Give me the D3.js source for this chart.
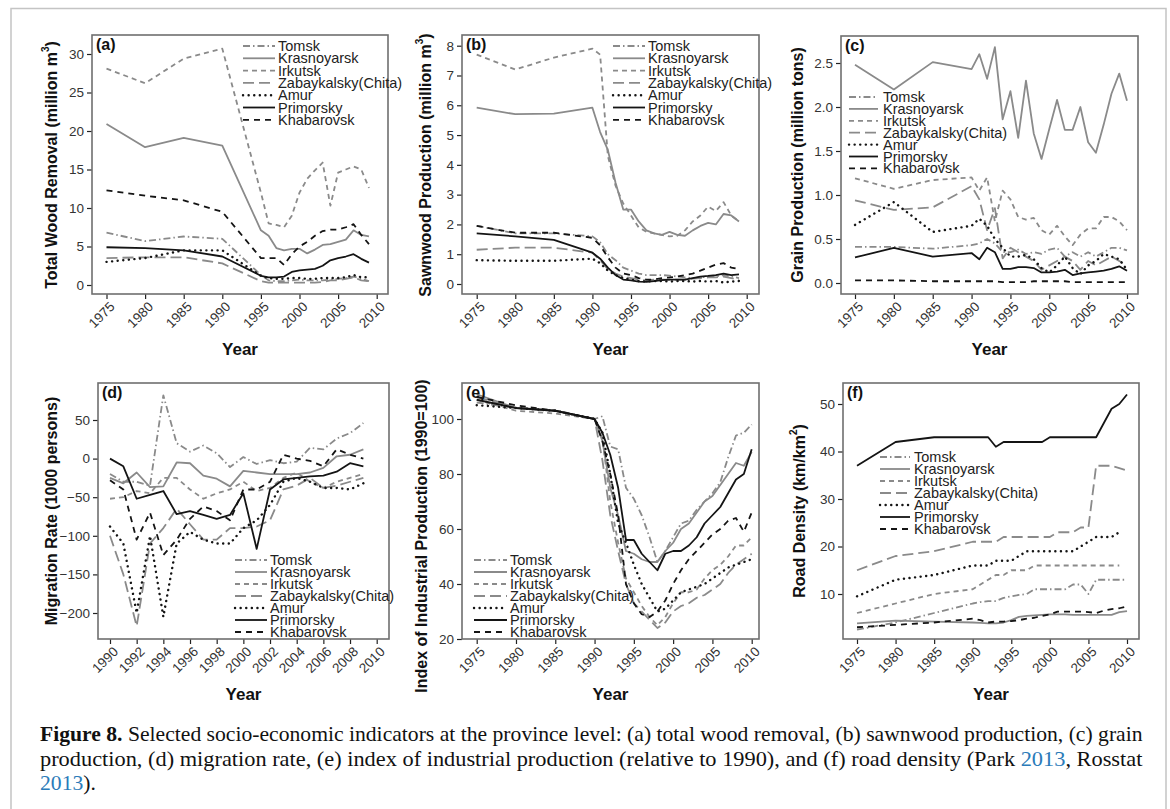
<!DOCTYPE html>
<html><head><meta charset="utf-8">
<script src="https://cdn.jsdelivr.net/npm/d3@7"></script>
<style>
body{margin:0;background:#fff;}
svg{display:block;font-family:"Liberation Sans",Arial,Helvetica,sans-serif;}
</style>
</head><body>
<svg id="c" width="1170" height="809"></svg>
<script>
// ---------------- DATA ----------------
const seriesNames = ["Tomsk","Krasnoyarsk","Irkutsk","Zabaykalsky(Chita)","Amur","Primorsky","Khabarovsk"];

// (a) Total wood removal (million m3)
const woodYears = [1975,1980,1985,1990,1995,1996,1997,1998,1999,2000,2001,2002,2003,2004,2005,2006,2007,2008,2009];
const woodTomsk       = [6.8,5.7,6.3,6.0,1.3,0.6,0.5,0.5,0.6,0.7,0.6,0.6,0.6,0.7,0.8,0.9,1.1,0.8,0.5];
const woodKrasnoyarsk = [20.9,17.9,19.1,18.1,7.1,6.4,4.8,4.5,4.7,4.7,4.1,4.6,5.2,5.3,5.6,5.9,7.1,6.5,6.3];
const woodIrkutsk     = [28.1,26.2,29.4,30.7,12.0,8.0,7.8,7.5,9.0,12.0,13.8,14.9,15.9,10.3,14.6,15.0,15.4,15.0,12.6];
const woodZabaykalsky = [3.5,3.6,3.6,2.8,0.5,0.3,0.3,0.3,0.3,0.3,0.3,0.3,0.4,0.6,0.6,0.8,1.0,0.6,0.5];
const woodAmur        = [3.0,3.5,4.5,4.5,1.2,0.9,0.8,0.8,0.9,0.9,0.8,0.8,0.9,0.9,0.9,1.0,1.3,1.0,1.0];
const woodPrimorsky   = [4.9,4.8,4.5,3.7,1.2,1.0,1.0,1.1,1.7,1.9,2.0,2.1,2.5,3.2,3.5,3.7,4.0,3.4,2.9];
const woodKhabarovsk  = [12.3,11.6,11.0,9.5,3.5,3.5,3.5,2.6,4.0,5.0,5.6,6.4,7.0,7.2,7.2,7.5,7.9,6.5,5.3];

// (b) Sawnwood production (million m3)
const sawYears = [1975,1980,1985,1990,1991,1992,1993,1994,1995,1996,1997,1998,1999,2000,2001,2002,2003,2004,2005,2006,2007,2008,2009];
const sawTomsk       = [1.95,1.7,1.7,1.6,1.4,1.0,0.8,0.55,0.45,0.35,0.3,0.3,0.3,0.28,0.25,0.22,0.2,0.22,0.25,0.25,0.3,0.25,0.2];
const sawKrasnoyarsk = [5.92,5.7,5.72,5.92,5.1,4.5,3.4,2.5,2.5,2.1,1.8,1.7,1.65,1.75,1.65,1.62,1.8,1.95,2.05,2.0,2.35,2.3,2.1];
const sawIrkutsk     = [7.7,7.2,7.6,7.9,7.7,4.3,3.3,2.7,2.3,1.9,1.75,1.7,1.65,1.6,1.62,1.8,2.1,2.3,2.6,2.45,2.75,2.3,2.1];
const sawZabaykalsky = [1.15,1.22,1.22,1.05,0.8,0.5,0.35,0.25,0.2,0.15,0.12,0.15,0.15,0.15,0.15,0.15,0.18,0.2,0.22,0.22,0.25,0.2,0.15];
const sawAmur        = [0.8,0.78,0.78,0.85,0.7,0.45,0.3,0.2,0.15,0.1,0.08,0.1,0.1,0.08,0.1,0.1,0.08,0.1,0.08,0.1,0.05,0.08,0.1];
const sawPrimorsky   = [1.7,1.6,1.48,1.05,0.85,0.55,0.3,0.15,0.12,0.08,0.07,0.1,0.13,0.15,0.15,0.15,0.2,0.25,0.27,0.3,0.35,0.3,0.32];
const sawKhabarovsk  = [1.95,1.72,1.72,1.55,1.3,0.9,0.55,0.35,0.3,0.2,0.15,0.15,0.2,0.22,0.25,0.3,0.35,0.45,0.55,0.65,0.7,0.55,0.5];

// (c) Grain production (million tons)
const grainYears = [1975,1980,1985,1990,1991,1992,1993,1994,1995,1996,1997,1998,1999,2000,2001,2002,2003,2004,2005,2006,2007,2008,2009,2010];
const grainTomsk       = [0.41,0.41,0.39,0.43,0.45,0.5,0.45,0.35,0.35,0.38,0.33,0.35,0.33,0.38,0.4,0.3,0.35,0.3,0.35,0.3,0.35,0.4,0.4,0.37];
const grainKrasnoyarsk = [2.48,2.2,2.51,2.43,2.6,2.32,2.68,1.86,2.18,1.65,2.3,1.7,1.41,1.75,2.08,1.74,1.74,2.0,1.6,1.48,1.8,2.15,2.38,2.07];
const grainIrkutsk     = [1.19,1.07,1.17,1.2,1.05,1.2,0.7,1.05,0.95,0.75,0.72,0.74,0.6,0.55,0.65,0.53,0.43,0.55,0.62,0.62,0.75,0.75,0.7,0.6];
const grainZabaykalsky = [0.94,0.83,0.86,1.1,0.95,0.6,0.85,0.28,0.4,0.35,0.3,0.25,0.15,0.2,0.25,0.3,0.25,0.15,0.25,0.2,0.25,0.3,0.25,0.2];
const grainAmur        = [0.66,0.92,0.58,0.65,0.73,0.65,0.5,0.4,0.3,0.3,0.32,0.27,0.17,0.12,0.2,0.3,0.17,0.1,0.2,0.25,0.33,0.3,0.27,0.15];
const grainPrimorsky   = [0.29,0.4,0.3,0.34,0.27,0.4,0.35,0.16,0.16,0.18,0.18,0.17,0.12,0.12,0.13,0.15,0.09,0.11,0.12,0.13,0.14,0.16,0.19,0.14];
const grainKhabarovsk  = [0.03,0.03,0.02,0.02,0.02,0.02,0.02,0.01,0.01,0.01,0.01,0.02,0.02,0.02,0.02,0.02,0.01,0.01,0.01,0.01,0.01,0.01,0.01,0.01];

// (d) Migration rate (1000 persons)
const migYears = [1990,1991,1992,1993,1994,1995,1996,1997,1998,1999,2000,2001,2002,2003,2004,2005,2006,2007,2008,2009];
const migTomsk       = [-20,-30,-30,-35,82,20,9,17,7,-11,2,-7,-2,-6,-4,14,12,26,33,46];
const migKrasnoyarsk = [-25,-32,-18,-37,-36,-5,-6,-22,-26,-36,-16,-18,-20,-20,-20,-18,-12,3,5,12];
const migIrkutsk     = [-52,-50,-42,-45,-25,-25,-40,-52,-45,-40,-30,-42,-38,-25,-18,-30,-38,-30,-25,-20];
const migZabaykalsky = [-100,-150,-217,-110,-90,-65,-85,-105,-105,-90,-90,-88,-80,-40,-35,-25,-38,-35,-30,-25];
const migAmur        = [-88,-110,-200,-100,-205,-110,-95,-105,-110,-110,-90,-80,-60,-30,-25,-30,-38,-38,-40,-32];
const migPrimorsky   = [0,-10,-52,-47,-42,-72,-68,-73,-78,-73,-45,-117,-40,-27,-25,-23,-22,-17,-6,-10];
const migKhabarovsk  = [-28,-40,-105,-70,-125,-105,-78,-62,-68,-80,-40,-40,-30,5,0,-3,-10,12,5,0];

// (e) Index of industrial production (1990=100)
const indYears = [1975,1980,1985,1990,1991,1992,1993,1994,1995,1996,1997,1998,1999,2000,2001,2002,2003,2004,2005,2006,2007,2008,2009,2010];
const indTomsk       = [106,104,103,100,101,90,89,75,71,65,57,48,52,57,62,63,67,70,73,77,86,94,95,98];
const indKrasnoyarsk = [109,104,103,100,92,75,65,52,51,49,48,48,52,55,60,62,66,70,72,76,80,84,83,88];
const indIrkutsk     = [107,103,102,100,93,70,55,42,37,32,28,25,28,33,37,37,38,42,45,47,50,54,54,57];
const indZabaykalsky = [108,104,103,100,85,65,52,40,33,30,27,24,26,30,32,33,35,36,38,40,44,47,49,51];
const indAmur        = [105,104,103,100,95,80,62,55,47,40,35,30,31,34,37,38,39,40,42,44,46,47,48,49];
const indPrimorsky   = [107,104,103,100,95,87,75,56,56,51,48,45,51,52,52,54,57,62,65,68,73,78,80,89];
const indKhabarovsk  = [108,105,103,100,92,80,65,40,33,29,28,30,34,40,45,49,52,55,58,60,63,64,59,66];

// (f) Road density (km/km2)
const roadYears = [1975,1980,1985,1990,1991,1992,1993,1994,1995,1996,1997,1998,1999,2000,2001,2002,2003,2004,2005,2006,2007,2008,2009,2010];
const roadTomsk       = [2.5,4,6,8,8.3,8.5,8.5,9.2,9.5,9.8,10,11,11,11,11,11,12,12,10,13,13,13,13,13];
const roadKrasnoyarsk = [3.8,4.4,4.2,4.0,3.9,3.8,3.8,4.0,4.5,5.2,5.4,5.5,5.6,5.7,5.7,5.7,5.6,5.6,5.6,5.6,5.6,5.6,6.2,6.4];
const roadIrkutsk     = [6,8,10,11,12,13,14,14,15,15,15,16,16,16,16,16,16,16,16,16,16,16,16,null];
const roadZabaykalsky = [15,18,19,21,21,21,21,22,22,22,22,22,22,22,23,23,23,24,24,37,37,37,36.5,36];
const roadAmur        = [9.5,13,14,16,16,16,17,17,17,18,19,19,19,19,19,19,19,20,21,22,22,22,23,null];
const roadPrimorsky   = [37,42,43,43,43,43,41,42,42,42,42,42,42,43,43,43,43,43,43,43,46,49,50,52];
const roadKhabarovsk  = [3,3.5,4,4.8,4.5,4.0,4.2,4.2,4.3,4.5,4.8,5.0,5.4,5.7,6.3,6.3,6.3,6.3,6.2,6.0,6.5,6.8,7.0,7.4];

// ---------------- STYLES / LAYOUT ----------------
const GREY = "#8a8a8a", BLACK = "#141414";
const lineStyles = [
  {color:GREY,  dash:"7,3,1.5,3", w:1.8},
  {color:GREY,  dash:null,       w:1.8},
  {color:GREY,  dash:"5,4",      w:1.8},
  {color:GREY,  dash:"11,5",     w:1.8},
  {color:BLACK, dash:"0.1,5.5",  w:2.4, cap:"round"},
  {color:BLACK, dash:null,       w:1.8},
  {color:BLACK, dash:"6,5",      w:1.8}
];

const panels = [
  {tag:"(a)", years:woodYears, values:[woodTomsk,woodKrasnoyarsk,woodIrkutsk,woodZabaykalsky,woodAmur,woodPrimorsky,woodKhabarovsk],
   box:[92,388,35,294], xr:[1975,2010,106.5,376.7], yr:[0,30,285,54], yticks:d3.range(0,31,5), xticks:d3.range(1975,2011,5), yfmt:d3.format("d"),
   ytitle:["Total Wood Removal  (million m","3",")"], ytx:51, yty:165, leg:[243,275,278,46,12.3]},
  {tag:"(b)", years:sawYears, values:[sawTomsk,sawKrasnoyarsk,sawIrkutsk,sawZabaykalsky,sawAmur,sawPrimorsky,sawKhabarovsk],
   box:[462,759,35,294], xr:[1975,2010,476.7,746.7], yr:[0,8,284,45.7], yticks:d3.range(0,9,1), xticks:d3.range(1975,2011,5), yfmt:d3.format("d"),
   ytitle:["Sawnwood Production (million m","3",")"], ytx:425, yty:165, leg:[613,645,648,46,12.3]},
  {tag:"(c)", years:grainYears, values:[grainTomsk,grainKrasnoyarsk,grainIrkutsk,grainZabaykalsky,grainAmur,grainPrimorsky,grainKhabarovsk],
   box:[841,1138,36,294], xr:[1975,2010,855,1127], yr:[0,2.5,283,63], yticks:d3.range(0,2.51,0.5), xticks:d3.range(1975,2011,5), yfmt:d3.format(".1f"),
   ytitle:["Grain Production (million tons)"], ytx:797, yty:165, leg:[849,878,883,97,11.9]},
  {tag:"(d)", years:migYears, values:[migTomsk,migKrasnoyarsk,migIrkutsk,migZabaykalsky,migAmur,migPrimorsky,migKhabarovsk],
   box:[98,389,383,639], xr:[1990,2010,110,376.7], yr:[-200,50,613,420], yticks:d3.range(-200,51,50), xticks:d3.range(1990,2011,2), yfmt:(v)=>v<0?"\u2212"+Math.abs(v):String(v),
   ytitle:["Migration Rate (1000 persons)"], ytx:51, yty:511, leg:[235,267,270,560,12]},
  {tag:"(e)", years:indYears, values:[indTomsk,indKrasnoyarsk,indIrkutsk,indZabaykalsky,indAmur,indPrimorsky,indKhabarovsk],
   box:[462,759,383,639], xr:[1975,2010,476.7,751.7], yr:[20,100,639,419], yticks:d3.range(20,101,20), xticks:d3.range(1975,2011,5), yfmt:d3.format("d"),
   ytitle:["Index of Industrial Production (1990=100)"], ytx:421, yty:536, leg:[474,507,510,560,12]},
  {tag:"(f)", years:roadYears, values:[roadTomsk,roadKrasnoyarsk,roadIrkutsk,roadZabaykalsky,roadAmur,roadPrimorsky,roadKhabarovsk],
   box:[843,1139,383,639], xr:[1975,2010,857,1127], yr:[10,50,594,404], yticks:d3.range(10,51,10), xticks:d3.range(1975,2011,5), yfmt:d3.format("d"),
   ytitle:["Road Density (km/km","2",")"], ytx:799, yty:511, leg:[880,910,914,457,12]}
];

const svg = d3.select("#c");

// outer frame
svg.append("path").attr("d","M11,812 L11,8.5 L1166,8.5 L1166,812")
  .attr("fill","none").attr("stroke","#c4c4c4").attr("stroke-width",1.5);

panels.forEach(p=>{
  const [bx0,bx1,by0,by1] = p.box;
  const x = d3.scaleLinear().domain([p.xr[0],p.xr[1]]).range([p.xr[2],p.xr[3]]);
  const y = d3.scaleLinear().domain([p.yr[0],p.yr[1]]).range([p.yr[2],p.yr[3]]);
  const g = svg.append("g");

  // y axis
  const ya = d3.axisLeft(y).tickValues(p.yticks).tickFormat(p.yfmt).tickSize(5).tickPadding(3);
  const yg = g.append("g").attr("transform",`translate(${bx0},0)`).call(ya);
  yg.select(".domain").remove();
  yg.selectAll("line").attr("stroke","#222").attr("stroke-width",1.2);
  yg.selectAll("text").attr("font-size",13.5).attr("fill","#333").attr("font-family","Liberation Sans, Arial, sans-serif");

  // x axis
  const xa = d3.axisBottom(x).tickValues(p.xticks).tickFormat(d3.format("d")).tickSize(5);
  const xg = g.append("g").attr("transform",`translate(0,${by1})`).call(xa);
  xg.select(".domain").remove();
  xg.selectAll("line").attr("stroke","#222").attr("stroke-width",1.2);
  xg.selectAll("text").attr("font-size",13.5).attr("fill","#333")
    .attr("font-family","Liberation Sans, Arial, sans-serif")
    .attr("text-anchor","end").attr("dy",null).attr("y",null)
    .attr("transform","translate(6,11) rotate(-45)").attr("dominant-baseline","middle");

  // lines
  const line = d3.line().x(d=>x(d[0])).y(d=>y(d[1]));
  p.values.forEach((vals,i)=>{
    const st = lineStyles[i];
    const pts = p.years.map((yr,k)=>[yr,vals[k]]).filter(d=>d[1]!=null);
    g.append("path").datum(pts).attr("d",line)
      .attr("fill","none").attr("stroke",st.color).attr("stroke-width",st.w)
      .attr("stroke-dasharray",st.dash).attr("stroke-linecap",st.cap||"butt")
      .attr("stroke-linejoin","round");
  });

  // box
  g.append("rect").attr("x",bx0).attr("y",by0).attr("width",bx1-bx0).attr("height",by1-by0)
    .attr("fill","none").attr("stroke","#6f6f6f").attr("stroke-width",1.6);

  // tag
  g.append("text").attr("x",bx0+4).attr("y",by0+15).attr("font-weight","bold").attr("font-size",16).attr("fill","#111").text(p.tag);

  // legend
  const [lx0,lx1,tx,ly0,dy] = p.leg;
  seriesNames.forEach((nm,i)=>{
    const st = lineStyles[i];
    const yy = ly0 + i*dy;
    g.append("line").attr("x1",lx0).attr("x2",lx1).attr("y1",yy).attr("y2",yy)
      .attr("stroke",st.color).attr("stroke-width",st.w).attr("stroke-dasharray",st.dash)
      .attr("stroke-linecap",st.cap||"butt");
    g.append("text").attr("x",tx).attr("y",yy).attr("dominant-baseline","central")
      .attr("font-size",14.5).attr("fill","#222").text(nm);
  });

  // y title
  const yt = g.append("text").attr("transform",`translate(${p.ytx},${p.yty}) rotate(-90)`)
    .attr("text-anchor","middle").attr("dominant-baseline","central")
    .attr("font-weight","bold").attr("font-size",16).attr("fill","#111");
  yt.append("tspan").text(p.ytitle[0]);
  if (p.ytitle.length>1){
    yt.append("tspan").attr("font-size",10).attr("dy",-6).text(p.ytitle[1]);
    yt.append("tspan").attr("dy",6).text(p.ytitle[2]);
  }

  // x title
  g.append("text").attr("x",(bx0+bx1)/2).attr("y",by1+55).attr("text-anchor","middle")
    .attr("dominant-baseline","central").attr("font-weight","bold").attr("font-size",17).attr("fill","#111").text("Year");
});

// caption
const capLines = [
  {y:741, target:1103, parts:[{t:"Figure 8.",b:true},{t:" Selected socio-economic indicators at the province level: (a) total wood removal, (b) sawnwood production, (c) grain"}]},
  {y:766, target:1103, parts:[{t:"production, (d) migration rate, (e) index of industrial production (relative to 1990), and (f) road density (Park "},{t:"2013",c:"#2b7bb9"},{t:", Rosstat"}]},
  {y:790, target:null, parts:[{t:"2013",c:"#2b7bb9"},{t:")."}]}
];
let scale1 = 1;
capLines.forEach((ln,i)=>{
  const t = svg.append("text").attr("x",0).attr("y",0)
    .attr("font-family","Liberation Serif, 'DejaVu Serif', serif").attr("font-size",20).attr("fill","#111")
    .attr("xml:space","preserve");
  ln.parts.forEach(pt=>{
    t.append("tspan").attr("font-weight",pt.b?"bold":null).attr("fill",pt.c||null).text(pt.t);
  });
  const w = t.node().getComputedTextLength();
  let s = ln.target ? ln.target/w : scale1;
  if (i===0) scale1 = s;
  t.attr("transform",`translate(40,${ln.y}) scale(${s},1)`);
});
</script>
</body></html>
